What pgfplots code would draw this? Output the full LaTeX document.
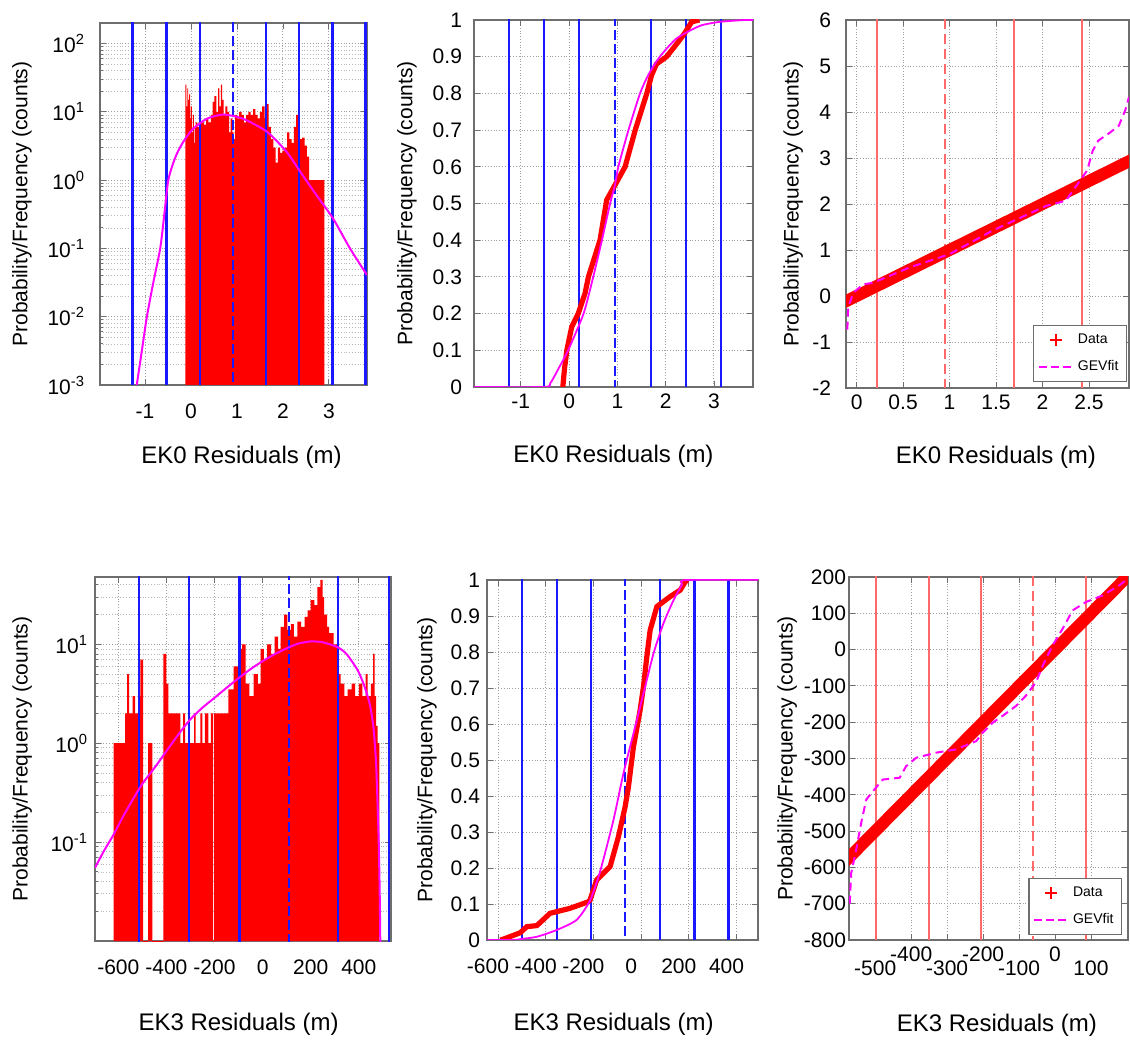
\documentclass[border=0pt]{standalone}
\usepackage{fontspec}
\setmainfont{Liberation Sans}
\usepackage{pgfplots}
\pgfplotsset{compat=1.18}
\definecolor{mred}{RGB}{255,0,0}
\definecolor{mmag}{RGB}{255,0,255}
\definecolor{mblue}{RGB}{25,25,255}
\definecolor{msalmon}{RGB}{255,105,105}
\definecolor{mframe}{RGB}{110,110,110}
\pgfplotsset{
  mstyle/.style={
    scale only axis, anchor=south west,
    axis line style={mframe, line width=0.9pt},
    tick style={mframe, line width=0.4pt},
    tick align=inside, major tick length=3pt, minor tick length=1.5pt,
    grid=major,
    major grid style={densely dotted, gray!75, line width=0.45pt},
    minor grid style={densely dotted, gray!55, line width=0.35pt},
    tick label style={font=\fontsize{10.5}{12}\selectfont},
    xlabel style={font=\fontsize{12}{14}\selectfont, anchor=center},
    ylabel style={font=\fontsize{10.5}{12}\selectfont, anchor=center},
    /pgf/number format/assume math mode=true,
  },
  blueline/.style={mblue, line width=1.2pt, forget plot},
  bluelined/.style={mblue, line width=1.2pt, dash pattern=on 5pt off 2pt, forget plot},
  salline/.style={draw=msalmon, line width=1pt, forget plot},
  sallined/.style={draw=msalmon, line width=1pt, dash pattern=on 5pt off 2.5pt, forget plot},
  legst/.style={legend style={font=\fontsize{7}{8}\selectfont, draw=mframe, line width=0.6pt, fill=white, inner sep=2pt, row sep=3pt, cells={anchor=west}}},
}
\begin{document}
\begin{tikzpicture}
\path[use as bounding box] (0,0) rectangle (565pt,519.5pt);

% ---------------- Panel 1 ----------------
\begin{axis}[mstyle, at={(50pt,327pt)}, width=133.5pt, height=181pt,
  xmin=-1.98, xmax=3.83, ymode=log, ymin=1e-3, ymax=200, log origin=infty,
  xtick={-1,0,1,2,3},
  ytick={1e-3,1e-2,1e-1,1,10,100},
  yticklabels={10\textsuperscript{-3},10\textsuperscript{-2},10\textsuperscript{-1},10\textsuperscript{0},10\textsuperscript{1},10\textsuperscript{2}},
  minor ytick={2e-3,3e-3,4e-3,5e-3,6e-3,7e-3,8e-3,9e-3,2e-2,3e-2,4e-2,5e-2,6e-2,7e-2,8e-2,9e-2,0.2,0.3,0.4,0.5,0.6,0.7,0.8,0.9,2,3,4,5,6,7,8,9,20,30,40,50,60,70,80,90,200},
  yminorgrids=true,
  xticklabel style={yshift=-6pt}, yticklabel style={xshift=-4pt},
  xlabel={EK0 Residuals (m)}, ylabel={Probability/Frequency (counts)},
  xlabel style={at={(axis description cs:0.53,-0.199)}},
  ylabel style={at={(axis description cs:-0.292,0.5)}}]
\addplot[ybar interval, fill=mred, draw=none, forget plot] coordinates {
(-0.12,25) (-0.10,12) (-0.08,22) (-0.06,15) (-0.04,18) (-0.02,8) (0.00,12) (0.02,5) (0.04,9) (0.06,3.5) (0.08,6) (0.10,7) (0.14,6) (0.19,3) (0.22,7) (0.28,6.5) (0.33,8) (0.38,7) (0.43,9) (0.47,14) (0.51,17) (0.55,10) (0.59,22) (0.62,12) (0.65,25) (0.68,15) (0.71,9) (0.75,12) (0.79,10) (0.83,5) (0.86,8) (0.90,5) (0.93,4) (0.96,9) (1.00,8) (1.05,10) (1.10,9) (1.15,7) (1.20,9) (1.25,10) (1.30,9) (1.35,11) (1.40,9) (1.45,8) (1.50,10) (1.55,12) (1.60,8) (1.64,13) (1.69,6) (1.74,4) (1.79,3) (1.84,1.8) (1.89,3) (1.94,2.5) (1.99,2.7) (2.04,3) (2.09,5) (2.14,4) (2.19,3.5) (2.24,6) (2.29,9) (2.33,12) (2.37,4) (2.42,4.2) (2.47,3.2) (2.52,2.2) (2.57,1) (2.90,1)};
\pgfplotsinvokeforeach{-1.27,-0.53,0.20,1.63,2.35,3.08,3.80}{\addplot[blueline] coordinates {(#1,1e-5) (#1,1e5)};}
\addplot[bluelined] coordinates {(0.92,1e-5) (0.92,1e5)};
\addplot[mmag, line width=1pt, smooth, tension=0.4, forget plot] coordinates {
(-1.18,0.001) (-1.07,0.00316) (-0.96,0.01) (-0.82,0.0316) (-0.67,0.1) (-0.58,0.316) (-0.50,0.95) (-0.41,1.6) (-0.30,2.5) (-0.15,3.8) (0.04,5.6) (0.34,7.9) (0.70,9.12) (1.13,7.94) (1.65,5.13) (2.08,2.60) (2.40,1.26) (2.73,0.603) (3.09,0.275) (3.46,0.1) (3.83,0.0407)};
\end{axis}

% ---------------- Panel 2 ----------------
\begin{axis}[mstyle, at={(237pt,326pt)}, width=139.5pt, height=183.5pt,
  xmin=-1.97, xmax=3.81, ymin=0, ymax=1,
  xtick={-1,0,1,2,3}, ytick={0,0.1,0.2,0.3,0.4,0.5,0.6,0.7,0.8,0.9,1},
  yticklabel style={xshift=-2.5pt},
  xlabel={EK0 Residuals (m)}, ylabel={Probability/Frequency (counts)},
  xlabel style={at={(axis description cs:0.5,-0.19)}},
  ylabel style={at={(axis description cs:-0.24,0.5)}}]
\pgfplotsinvokeforeach{-1.24,-0.52,0.21,1.70,2.42,3.15}{\addplot[blueline] coordinates {(#1,-1) (#1,2)};}
\addplot[bluelined] coordinates {(0.95,-1) (0.95,2)};
\addplot[mred, line width=2.6pt, forget plot] coordinates {
(-0.13,-0.02) (-0.13,0) (-0.095,0.05) (-0.047,0.1) (0.055,0.164) (0.19,0.2) (0.33,0.255) (0.40,0.3) (0.64,0.4) (0.78,0.51) (0.95,0.55) (1.16,0.6) (1.37,0.7) (1.61,0.8) (1.71,0.85) (1.81,0.88) (2.02,0.9) (2.26,0.94) (2.40,0.965) (2.54,0.995) (2.7,1.0)};
\addplot[mmag, line width=0.9pt, smooth, tension=0.4, forget plot] coordinates {
(-2.1,0) (-0.53,0) (-0.39,0.01) (-0.22,0.05) (-0.02,0.1) (0.30,0.2) (0.50,0.3) (0.68,0.4) (0.85,0.5) (0.95,0.55) (1.02,0.6) (1.23,0.7) (1.47,0.8) (1.64,0.85) (1.88,0.9) (2.23,0.95) (2.71,0.984) (3.13,0.995) (3.65,1.0) (3.9,1.0)};
\end{axis}

% ---------------- Panel 3 ----------------
\begin{axis}[mstyle, legst, at={(423pt,325.5pt)}, width=141.5pt, height=184pt,
  xmin=-0.114, xmax=2.93, ymin=-2, ymax=6,
  xtick={0,0.5,1,1.5,2,2.5}, ytick={-2,-1,0,1,2,3,4,5,6},
  yticklabel style={xshift=-4pt},
  xlabel={EK0 Residuals (m)}, ylabel={Probability/Frequency (counts)},
  xlabel style={at={(axis description cs:0.53,-0.1875)}},
  ylabel style={at={(axis description cs:-0.187,0.5)}},
  legend style={at={(0.993,0.016)}, anchor=south east}]
\addlegendimage{only marks, mark=+, mred, mark size=3pt, line width=1.2pt}
\addlegendentry{Data}
\addlegendimage{mmag, line width=1pt, dash pattern=on 4pt off 2pt}
\addlegendentry{GEVfit}
\addplot[salline] coordinates {(0.22,-3) (0.22,7)};
\addplot[salline] coordinates {(1.69,-3) (1.69,7)};
\addplot[salline] coordinates {(2.42,-3) (2.42,7)};
\addplot[sallined] coordinates {(0.95,-3) (0.95,7)};
\addplot[mred, line width=6pt, forget plot] coordinates {(-0.3,-0.3) (3.1,3.1)};
\addplot[mmag, line width=1pt, dash pattern=on 4pt off 2.5pt, forget plot] coordinates {
(-0.10,-0.73) (-0.09,-0.25) (-0.036,0.07) (0.07,0.25) (0.18,0.29) (0.57,0.62) (1.0,0.91) (1.46,1.42) (2.04,1.96) (2.25,2.07) (2.39,2.47) (2.48,2.73) (2.54,3.16) (2.6,3.38) (2.71,3.53) (2.82,3.7) (2.89,4.04) (2.93,4.33)};
\end{axis}

% ---------------- Panel 4 ----------------
\begin{axis}[mstyle, at={(47.5pt,49pt)}, width=148pt, height=182pt,
  xmin=-697, xmax=534, ymode=log, ymin=0.01, ymax=48, log origin=infty,
  xtick={-600,-400,-200,0,200,400},
  ytick={0.01,0.1,1,10},
  yticklabels={,10\textsuperscript{-1},10\textsuperscript{0},10\textsuperscript{1}},
  minor ytick={0.02,0.03,0.04,0.05,0.06,0.07,0.08,0.09,0.2,0.3,0.4,0.5,0.6,0.7,0.8,0.9,2,3,4,5,6,7,8,9,20,30,40},
  yminorgrids=true,
  xticklabel style={yshift=-6pt},
  xlabel={EK3 Residuals (m)}, ylabel={Probability/Frequency (counts)},
  xlabel style={at={(axis description cs:0.485,-0.23)}},
  ylabel style={at={(axis description cs:-0.246,0.5)}}]
\addplot[ybar interval, fill=mred, draw=none, forget plot] coordinates {
(-620,1) (-572,2) (-563,5) (-555,2) (-540,3) (-530,2) (-518,3) (-508,7) (-497,0.001) (-476,1) (-458,0.001) (-413,8) (-400,4) (-392,2) (-370,2) (-342,1) (-330,2) (-322,1) (-310,2) (-302,1) (-285,2) (-278,1) (-259,2) (-250,1) (-240,2) (-225,1) (-215,2) (-206,0.001) (-202,2) (-142,3.5) (-120,6) (-99,9) (-85,10) (-71,4) (-55,3) (-37,5) (-20,4) (-8,9) (5,7) (19,10) (35,8) (50,12) (65,9) (75,15) (90,20) (103,14) (118,16) (130,12) (145,17) (160,15) (175,19) (187,22) (200,28) (215,25) (228,38) (240,45) (250,30) (256,20) (268,15) (277,13) (295,10) (312,5) (325,4) (340,3) (354,3.5) (370,4) (385,3) (400,4) (415,3) (428,5) (437,3) (450,4) (460,8) (466,3) (472,1.5) (478,1) (486,1)};
\pgfplotsinvokeforeach{-514,-305,-96,313,526}{\addplot[blueline] coordinates {(#1,1e-5) (#1,1e5)};}
\addplot[bluelined] coordinates {(109,1e-5) (109,1e5)};
\addplot[mmag, line width=1pt, smooth, tension=0.4, forget plot] coordinates {
(-697,0.055) (-660,0.0813) (-621,0.1175) (-580,0.182) (-540,0.269) (-500,0.389) (-447,0.575) (-400,0.832) (-350,1.23) (-301,1.74) (-250,2.29) (-200,2.88) (-150,3.63) (-99,4.57) (-50,5.62) (0,6.76) (50,7.94) (109,9.33) (150,10.2) (200,10.7) (250,10.5) (313,9.33) (350,7.94) (395,5.50) (420,3.98) (440,2.82) (451,2.14) (462,1.38) (472,0.63) (478,0.25) (483,0.1) (487,0.0316) (490,0.0079)};
\end{axis}

% ---------------- Panel 5 ----------------
\begin{axis}[mstyle, at={(243.5pt,49.5pt)}, width=135.5pt, height=180pt,
  xmin=-646, xmax=490, ymin=0, ymax=1,
  xtick={-600,-400,-200,0,200,400}, ytick={0,0.1,0.2,0.3,0.4,0.5,0.6,0.7,0.8,0.9,1},
  xticklabel style={yshift=-6pt, xshift=-5pt},
  xlabel={EK3 Residuals (m)}, ylabel={Probability/Frequency (counts)},
  xlabel style={at={(axis description cs:0.467,-0.235)}},
  ylabel style={at={(axis description cs:-0.222,0.5)}}]
\pgfplotsinvokeforeach{-500,-353,-211,80,223,366}{\addplot[blueline] coordinates {(#1,-1) (#1,2)};}
\addplot[bluelined] coordinates {(-67,-1) (-67,2)};
\addplot[mred, line width=2.6pt, forget plot] coordinates {
(-590,0) (-579,0.002) (-507,0.02) (-479,0.037) (-437,0.04) (-382,0.074) (-298,0.088) (-222,0.106) (-214,0.111) (-186,0.167) (-130,0.204) (-95,0.287) (-67,0.37) (-53,0.426) (-32,0.537) (-4,0.639) (10,0.704) (24,0.787) (38,0.861) (66,0.926) (122,0.954) (164,0.972) (185,0.995) (193,1.0)};
\addplot[mmag, line width=0.9pt, smooth, tension=0.4, forget plot] coordinates {
(-700,0) (-540,0) (-500,0.003) (-437,0.009) (-353,0.028) (-270,0.056) (-214,0.11) (-172,0.19) (-116,0.333) (-74,0.463) (-32,0.574) (10,0.685) (52,0.796) (94,0.88) (136,0.944) (171,0.986) (192,1.0) (600,1.0)};
\end{axis}

% ---------------- Panel 6 ----------------
\begin{axis}[mstyle, legst, at={(424.5pt,49.5pt)}, width=139.5pt, height=181.5pt,
  xmin=-573, xmax=203, ymin=-800, ymax=200,
  xtick={-400,-200,0}, xticklabels={-400,-200,0},
  extra x ticks={-500,-300,-100,100}, extra x tick labels={-500,-300,-100,100},
  extra x tick style={grid=major, xticklabel style={yshift=-7pt}},
  ytick={-800,-700,-600,-500,-400,-300,-200,-100,0,100,200},
  yticklabel style={xshift=2pt},
  xlabel={EK3 Residuals (m)}, ylabel={Probability/Frequency (counts)},
  xlabel style={at={(axis description cs:0.53,-0.234)}},
  ylabel style={at={(axis description cs:-0.222,0.5)}},
  legend style={at={(0.979,0.014)}, anchor=south east}]
\addlegendimage{only marks, mark=+, mred, mark size=3pt, line width=1.2pt}
\addlegendentry{Data}
\addlegendimage{mmag, line width=1pt, dash pattern=on 4pt off 2pt}
\addlegendentry{GEVfit}
\addplot[salline] coordinates {(-497,-900) (-497,300)};
\addplot[salline] coordinates {(-351,-900) (-351,300)};
\addplot[salline] coordinates {(-207,-900) (-207,300)};
\addplot[salline] coordinates {(86,-900) (86,300)};
\addplot[sallined] coordinates {(-60,-900) (-60,300)};
\addplot[mred, line width=6pt, forget plot] coordinates {(-700,-700) (300,300)};
\addplot[mmag, line width=1pt, dash pattern=on 4pt off 2.5pt, forget plot] coordinates {
(-571,-700) (-567,-616) (-553,-551) (-539,-477) (-525,-413) (-502,-385) (-479,-358) (-432,-353) (-414,-321) (-386,-298) (-331,-284) (-275,-275) (-219,-252) (-201,-229) (-173,-201) (-145,-182) (-108,-155) (-81,-127) (-53,-90) (-34,-44) (-7,11) (21,57) (49,108) (86,131) (132,149) (179,177) (202,195)};
\end{axis}
\end{tikzpicture}
\end{document}
